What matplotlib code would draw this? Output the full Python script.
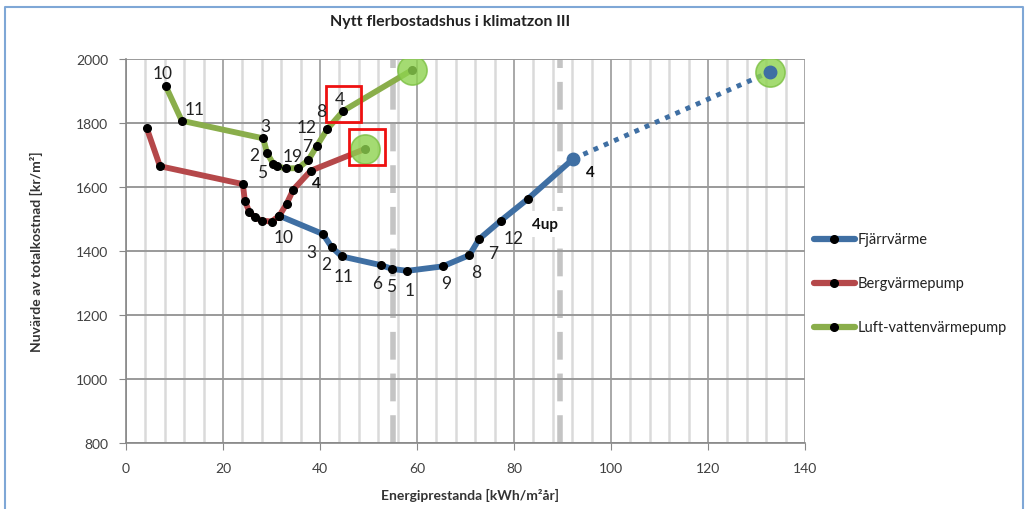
import matplotlib
matplotlib.use("Agg")
import matplotlib.pyplot as plt
from matplotlib.lines import Line2D
from matplotlib.patches import Rectangle

plt.rcParams['font.family'] = ['Lato', 'DejaVu Sans']

# ---- data ----
fjarr_x = [31.6, 40.6, 42.4, 44.5, 52.5, 54.9, 58.0, 65.3, 70.8, 72.8, 77.3, 82.8, 92.2]
fjarr_y = [1510, 1453, 1412, 1383, 1356, 1344, 1338, 1352, 1387, 1437, 1495, 1562, 1688]
fjarr_ext_x = [92.2, 132.8]
fjarr_ext_y = [1688, 1960]

berg_x = [4.3, 7.0, 24.1, 24.5, 25.4, 26.6, 28.0, 30.0, 31.6, 33.1, 34.5, 38.1, 49.3]
berg_y = [1783, 1665, 1609, 1557, 1523, 1505, 1495, 1492, 1510, 1547, 1592, 1651, 1719]

luft_x = [8.2, 11.5, 28.3, 29.1, 30.4, 31.1, 32.9, 35.5, 37.6, 39.3, 41.5, 44.8, 59.0]
luft_y = [1915, 1807, 1752, 1705, 1672, 1665, 1658, 1659, 1684, 1727, 1781, 1838, 1966]

limit_x = [55, 89.5]

# point labels: (text, x, y)
luft_labels = [("10", 7.6, 1956), ("11", 14.2, 1844), ("3", 28.7, 1790), ("2", 26.4, 1700),
               ("5", 28.0, 1646), ("19", 34.3, 1696), ("7", 37.3, 1727), ("12", 37.3, 1787),
               ("8", 40.3, 1838), ("4", 44.1, 1875)]
berg_labels = [("4", 39.3, 1612)]
fjarr_labels = [("10", 32.4, 1443), ("3", 38.3, 1398), ("2", 41.2, 1359), ("11", 44.8, 1323),
                ("6", 51.7, 1300), ("5", 54.6, 1292), ("1", 58.4, 1278), ("9", 66.1, 1299),
                ("8", 72.2, 1335), ("7", 75.7, 1394), ("12", 80.0, 1440)]
fjarr_bold = [("4", 95.7, 1648)]
label_4up = ("4up", 86.4, 1484)

highlight_x = [59.0, 49.3, 132.8]
highlight_y = [1966, 1719, 1960]

boxes = [(41.2, 1804, 7.3, 111), (46.0, 1670, 7.4, 111)]

series_names = ["Fjärrvärme", "Bergvärmepump", "Luft-vattenvärmepump"]
c_blue, c_red, c_green = "#3F6FA3", "#B5484A", "#8AAE4B"

W, H = 1030, 510
fig = plt.figure(figsize=(W / 100, H / 100), dpi=100)
ax = fig.add_axes([126 / W, 1 - 444 / H, (805 - 126) / W, (444 - 60) / H])

ax.set_xlim(0, 140)
ax.set_ylim(800, 2000)
ax.set_xticks(range(0, 141, 20))
ax.set_yticks(range(800, 2001, 200))
ax.set_xticks(range(0, 141, 4), minor=True)
ax.grid(which='minor', axis='x', color='#dadada', lw=1.8, zorder=0)
ax.grid(which='major', axis='x', color='#9a9a9a', lw=1.2, zorder=0)
ax.grid(which='major', axis='y', color='#9a9a9a', lw=1.4, zorder=0)
ax.tick_params(which='minor', length=0)
ax.tick_params(which='major', length=5, color='#888888', labelsize=10, labelcolor='#404040')
ax.tick_params(axis='x', which='major', pad=9)
ax.tick_params(axis='y', which='major', pad=8)
for s in ['top', 'right']:
    ax.spines[s].set_visible(False)
for s in ['left', 'bottom']:
    ax.spines[s].set_color('#888888')
    ax.spines[s].set_linewidth(1.2)

for lx in limit_x:
    ax.axvline(lx, color='#c4c4c4', lw=4, linestyle=(0, (5, 2.5)), zorder=1)

lw = 4.2
ax.plot(fjarr_x, fjarr_y, color=c_blue, lw=lw, zorder=3, solid_capstyle='round')
ax.plot(fjarr_x[:-1], fjarr_y[:-1], 'o', color='black', ms=5.5, zorder=4)
ax.plot(fjarr_ext_x, fjarr_ext_y, color=c_blue, lw=3.5, linestyle=(0, (1, 1.3)),
        dash_capstyle='butt', zorder=3)
ax.plot(berg_x, berg_y, color=c_red, lw=lw, zorder=3, solid_capstyle='round')
ax.plot(berg_x, berg_y, 'o', color='black', ms=5.5, zorder=4)
ax.plot(luft_x, luft_y, color=c_green, lw=lw, zorder=3, solid_capstyle='round')
ax.plot(luft_x, luft_y, 'o', color='black', ms=5.5, zorder=4)

ax.plot(highlight_x, highlight_y, 'o', ms=21, mfc='#8ED34F', mec='#7CC043', mew=1.2,
        alpha=0.8, zorder=5)
ax.plot(fjarr_ext_x, fjarr_ext_y, 'o', color=c_blue, ms=9, zorder=6)

for (bx, by, bw, bh) in boxes:
    ax.add_patch(Rectangle((bx, by), bw, bh, fill=False, ec='#ee1111', lw=2, zorder=7))

for t, x, y in luft_labels + fjarr_labels:
    ax.text(x, y, t, fontsize=12.5, color='#222222', ha='center', va='center', zorder=8)
for t, x, y in berg_labels + fjarr_bold:
    ax.text(x, y, t, fontsize=11, color='#111111', ha='center', va='center',
            fontweight='bold', zorder=8)
ax.text(label_4up[1], label_4up[2], label_4up[0], fontsize=11, fontweight='bold', color='#111111',
        ha='center', va='center', zorder=8,
        bbox=dict(boxstyle='square,pad=0.4', fc='white', ec='none'))

fig.text(470 / W, 1 - 495 / H, "Energiprestanda [kWh/m²år]", fontsize=10, fontweight='bold',
         color='#333333', ha='center', va='center')
fig.text(36 / W, 1 - 252 / H, "Nuvärde av totalkostnad [kr/m²]", fontsize=10, fontweight='bold',
         color='#333333', ha='center', va='center', rotation=90)

fig.text(450 / W, 1 - 22 / H, "Nytt flerbostadshus i klimatzon III", fontsize=11.5,
         fontweight='bold', color='#222222', ha='center', va='center')

# legend (manual)
leg_y = [240, 284, 328]
for name, col, yy in zip(series_names, [c_blue, c_red, c_green], leg_y):
    fy = 1 - yy / H
    fig.add_artist(Line2D([814 / W, 855 / W], [fy, fy], color=col, lw=4.5,
                          solid_capstyle='round', transform=fig.transFigure))
    fig.add_artist(Line2D([834 / W], [fy], marker='o', color='black', ms=5.5,
                          transform=fig.transFigure))
    fig.text(858 / W, fy, name, fontsize=10.5, color='#222222', ha='left', va='center')

# outer border (top, left, right only; bottom falls outside the frame)
bx0, bx1, by1 = 5 / W, 1023 / W, 1 - 8 / H
fig.add_artist(Line2D([bx0, bx0, bx1, bx1], [0, by1, by1, 0], color='#7fa7d6', lw=1.5,
                      transform=fig.transFigure))

fig.savefig("out.png", dpi=100)
